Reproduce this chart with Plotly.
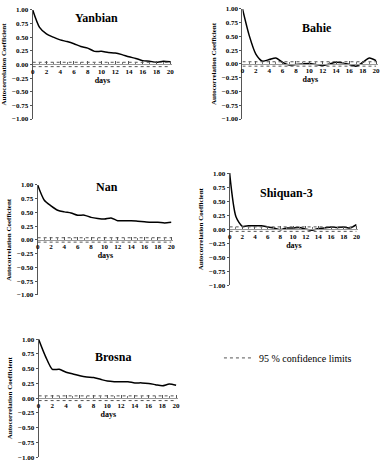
import plotly.graph_objects as go

days = list(range(0, 21))
yanbian = [1.00, 0.68, 0.56, 0.50, 0.45, 0.42, 0.38, 0.33, 0.30, 0.24, 0.24, 0.22, 0.21, 0.18, 0.14, 0.11, 0.07, 0.06, 0.04, 0.06, 0.05]
bahie = [1.00, 0.52, 0.18, 0.05, 0.08, 0.11, 0.03, -0.02, -0.01, 0.00, 0.01, -0.01, -0.03, 0.00, 0.03, 0.02, -0.01, -0.04, 0.03, 0.11, 0.06]
nan = [1.00, 0.72, 0.62, 0.54, 0.51, 0.49, 0.45, 0.45, 0.41, 0.39, 0.38, 0.40, 0.35, 0.35, 0.35, 0.34, 0.33, 0.32, 0.32, 0.31, 0.32]
shiquan = [1.00, 0.22, 0.05, 0.06, 0.06, 0.06, 0.04, 0.02, -0.01, 0.02, 0.02, 0.03, 0.00, -0.02, 0.01, 0.02, 0.04, 0.03, 0.04, 0.02, 0.08]
brosna = [1.00, 0.71, 0.49, 0.49, 0.44, 0.41, 0.38, 0.36, 0.35, 0.32, 0.29, 0.28, 0.28, 0.28, 0.26, 0.26, 0.25, 0.23, 0.21, 0.24, 0.22]
conf_limit = 0.04
names = ["Yanbian", "Bahie", "Nan", "Shiquan-3", "Brosna"]
series = [yanbian, bahie, nan, shiquan, brosna]
y_ticks = [-1.0, -0.75, -0.5, -0.25, 0.0, 0.25, 0.5, 0.75, 1.0]
x_ticks = list(range(0, 21, 2))

W, H = 388, 473
# panel boxes in pixels: (x0, x1, ytop, ybottom)
boxes = [(31, 172, 6, 117), (243, 380, 5, 117), (36, 173, 184, 296), (230, 360, 172, 286), (37, 178, 341, 461)]
title_px = [(95, 14), (318, 24), (106, 186), (287, 192), (112, 359)]

FONT = "Liberation Serif"
fig = go.Figure()
for i, (nm, vals) in enumerate(zip(names, series)):
    k = "" if i == 0 else str(i + 1)
    x0, x1, yt, yb = boxes[i]
    xd = [x0 / W, x1 / W]
    yd = [1 - yb / H, 1 - yt / H]
    ymid = (yd[0] + yd[1]) / 2
    fig.add_trace(go.Scatter(x=days, y=vals, mode="lines", line=dict(color="black", width=1.5, shape="spline", smoothing=0.7),
                             xaxis="x" + k, yaxis="y" + k, showlegend=False))
    for c in (conf_limit, -conf_limit):
        fig.add_trace(go.Scatter(x=[days[0], days[-1]], y=[c, c], mode="lines",
                                 line=dict(color="#555", width=1, dash="dot"),
                                 xaxis="x" + k, yaxis="y" + k,
                                 name="95 % confidence limits", showlegend=(i == 0 and c > 0)))
    fig.update_layout(**{
        "xaxis" + k: dict(domain=xd, anchor="free", position=ymid, range=[0, 20.3], tickvals=x_ticks,
                          showline=True, linecolor="#999", linewidth=1, ticks="inside", ticklen=3, tickcolor="#555",
                          minor=dict(tickvals=list(range(1, 21, 2)), ticks="inside", ticklen=2, tickcolor="#777"),
                          showgrid=False, zeroline=False,
                          tickfont=dict(family=FONT, size=7, color="black", weight="bold"),
                          title=dict(text="<b>days</b>", font=dict(family=FONT, size=8, color="black"), standoff=0)),
        "yaxis" + k: dict(domain=yd, anchor="x" + k, range=[-1, 1], tickvals=y_ticks, tickformat=".2f",
                          showline=True, linecolor="#555", linewidth=1, ticks="outside", ticklen=2, tickcolor="#555",
                          showgrid=False, zeroline=False,
                          tickfont=dict(family=FONT, size=7, color="black", weight="bold"),
                          title=dict(text="<b>Autocorrelation Coefficient</b>", font=dict(family=FONT, size=7, color="black"), standoff=4)),
    })
    tx, ty = title_px[i]
    fig.add_annotation(text="<b>" + nm + "</b>", x=tx / W, y=1 - ty / H, xref="paper", yref="paper",
                       xanchor="center", yanchor="middle",
                       showarrow=False, font=dict(family=FONT, size=12, color="black"))

fig.update_layout(
    width=W, height=H, margin=dict(l=0, r=0, t=0, b=0),
    paper_bgcolor="white", plot_bgcolor="white",
    legend=dict(x=0.565, y=1 - 360 / H, xanchor="left", yanchor="middle", bgcolor="rgba(0,0,0,0)",
                font=dict(family=FONT, size=10, color="black"), itemwidth=30),
)
fig.write_html("out.html")
